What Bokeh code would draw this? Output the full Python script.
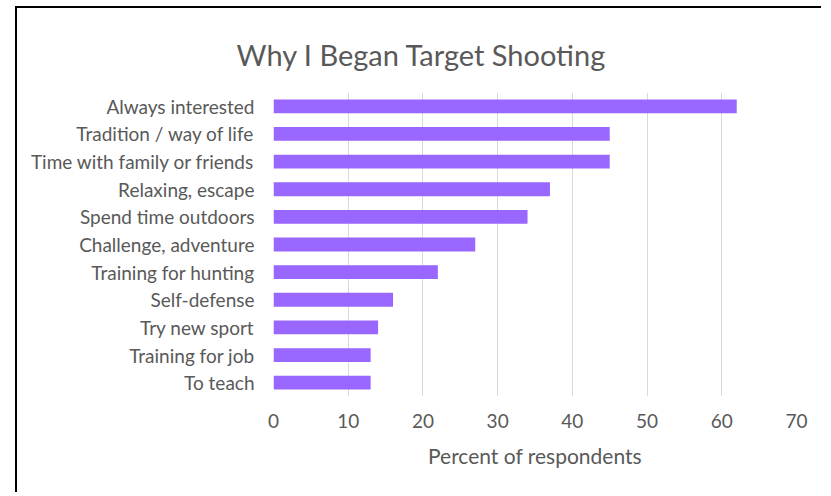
from bokeh.plotting import figure
from bokeh.models import Range1d, FactorRange, FixedTicker
from bokeh.embed import file_html
from bokeh.resources import INLINE

categories = ["Always interested", "Tradition / way of life", "Time with family or friends",
              "Relaxing, escape", "Spend time outdoors", "Challenge, adventure",
              "Training for hunting", "Self-defense", "Try new sport", "Training for job", "To teach"]
values = [62, 45, 45, 37, 34, 27, 22, 16, 14, 13, 13]
x_ticks = [0, 10, 20, 30, 40, 50, 60, 70]

FONT = "Lato"
GREY = "#595959"

p = figure(width=806, height=486, output_backend="svg", toolbar_location=None,
           y_range=FactorRange(*reversed(categories), range_padding=0),
           x_range=Range1d(0, 70),
           min_border_left=256, min_border_right=27, min_border_top=84, min_border_bottom=98)
p.margin = (6, 0, 0, 15)
p.styles = {"border-left": "2px solid black", "border-top": "2px solid black"}

p.hbar(y=categories, right=values, left=0, height=0.5, fill_color="#9966FF", line_color=None)

p.title.text = "Why I Began Target Shooting"
p.title.text_font = FONT
p.title.text_font_size = "29px"
p.title.text_font_style = "normal"
p.title.text_color = GREY
p.title.align = "left"
p.title.offset = -37
p.title.standoff = 42

p.outline_line_color = None
p.ygrid.grid_line_color = None
p.xgrid.grid_line_color = "#d9d9d9"
p.xgrid.grid_line_width = 1
p.xaxis.ticker = FixedTicker(ticks=x_ticks)

for ax in (p.xaxis[0], p.yaxis[0]):
    ax.axis_line_color = None
    ax.major_tick_line_color = None
    ax.minor_tick_line_color = None
    ax.major_tick_out = 0
    ax.major_tick_in = 0
    ax.major_label_text_font = FONT
    ax.major_label_text_font_size = "19px"
    ax.major_label_text_color = GREY

p.yaxis.major_label_standoff = 19
p.xaxis.major_label_standoff = 17
p.xaxis.axis_label = "Percent of respondents"
p.xaxis.axis_label_text_font = FONT
p.xaxis.axis_label_text_font_size = "21px"
p.xaxis.axis_label_text_font_style = "normal"
p.xaxis.axis_label_text_color = GREY
p.xaxis.axis_label_standoff = 12

open("out.html", "w").write(file_html(p, INLINE))
